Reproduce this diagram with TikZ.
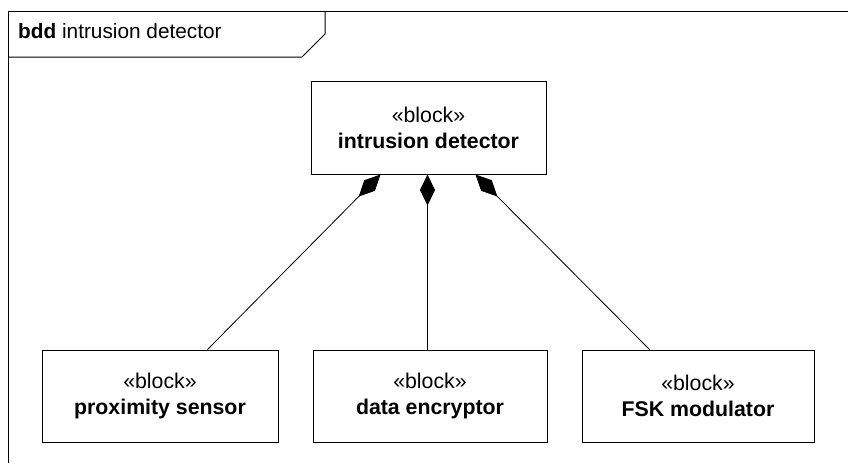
\documentclass[tikz,border=0pt]{standalone}
\usepackage{fontspec}
\setmainfont{Liberation Sans}
\usetikzlibrary{arrows.meta,calc}
\begin{document}
\begin{tikzpicture}[x=1pt,y=-1pt,
  blockbox/.style={draw,line width=1pt,inner sep=0pt,align=center,
    font=\fontsize{21.3}{26}\selectfont},
  comp/.style={line width=0.8pt,-{Diamond[length=31pt,width=15pt,fill=black]}}]
\useasboundingbox (0,0) rectangle (848,463);
% diagram frame and its header tab
\draw[line width=1pt] (8,463) -- (8,11) -- (848,11);
\draw[line width=1pt] (8,57) -- (302,57) -- (325,34) -- (325,11);
\node[anchor=base west,inner sep=0pt,font=\fontsize{20.8}{24}\selectfont] (hdr) at (18,38.5) {\textbf{bdd} intrusion detector};
% blocks
\node[blockbox,minimum width=235pt,minimum height=93pt] (det) at (428.5,127.5) {«block»\\\textbf{intrusion detector}};
\node[blockbox,minimum width=236pt,minimum height=92pt] (prox) at (160,396) {«block»\\\textbf{proximity sensor}};
\node[blockbox,minimum width=234pt,minimum height=92pt] (enc) at (430,396) {«block»\\\textbf{data encryptor}};
\node[blockbox,minimum width=232pt,minimum height=92pt] (fsk) at (698,396) {«block»\\\textbf{FSK modulator}};
% attachment points of the composition links
\coordinate (dl) at ($(det.south west)+(70,0)$);
\coordinate (dm) at ($(det.south west)+(117,0)$);
\coordinate (dr) at ($(det.south west)+(165,0)$);
\coordinate (pt) at ($(prox.north west)+(166,0)$);
\coordinate (et) at ($(enc.north west)+(115,0)$);
\coordinate (ft) at ($(fsk.north west)+(68,0)$);
% composition links
\draw[comp] (pt) -- (dl);
\draw[comp] (et) -- (dm);
\draw[comp] (ft) -- (dr);
\end{tikzpicture}
\end{document}
